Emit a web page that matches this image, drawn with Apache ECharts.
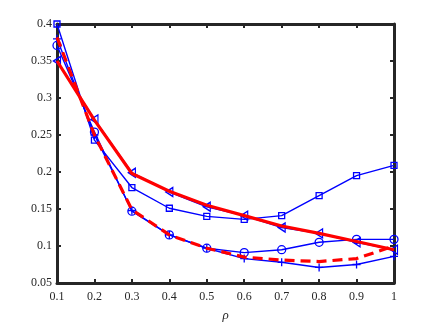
<!DOCTYPE html>
<html>
<head>
<meta charset="utf-8">
<script src="https://cdn.jsdelivr.net/npm/echarts@6/dist/echarts.min.js"></script>
<style>
  html, body { margin: 0; padding: 0; background: #fff; }
  #chart { width: 436px; height: 327px; }
</style>
</head>
<body>
<div id="chart"></div>
<script>
// x values (rho)
var rho = [0.1, 0.2, 0.3, 0.4, 0.5, 0.6, 0.7, 0.8, 0.9, 1.0];

// blue curves
var squareVals   = [0.400, 0.243, 0.179, 0.151, 0.140, 0.136, 0.141, 0.168, 0.195, 0.209];
var triangleVals = [0.350, 0.271, 0.199, 0.173, 0.153, 0.141, 0.125, 0.117, 0.105, 0.095];
var circleVals   = [0.371, 0.254, 0.147, 0.115, 0.097, 0.091, 0.095, 0.105, 0.109, 0.109];
var plusVals     = [0.380, 0.250, 0.148, 0.115, 0.097, 0.083, 0.078, 0.071, 0.075, 0.086];

// red curves
var redSolidVals  = [0.350, 0.270, 0.198, 0.174, 0.155, 0.141, 0.127, 0.117, 0.106, 0.095];
var redDashedVals = [0.382, 0.250, 0.149, 0.115, 0.097, 0.085, 0.081, 0.079, 0.083, 0.100];

var xTicks = ['0.1', '0.2', '0.3', '0.4', '0.5', '0.6', '0.7', '0.8', '0.9', '1'];
var yTicks = ['0.05', '0.1', '0.15', '0.2', '0.25', '0.3', '0.35', '0.4'];

function pairs(vals) {
  return rho.map(function (x, i) { return [x, vals[i]]; });
}

var axisColor = '#262626';
var font = 'Liberation Serif';

function blueSeries(name, vals, symbol, size) {
  return {
    name: name,
    type: 'line',
    data: pairs(vals),
    symbol: symbol,
    symbolSize: size,
    showAllSymbol: true,
    lineStyle: { color: '#0000ff', width: 1.4 },
    itemStyle: { color: 'rgba(0,0,0,0)', borderColor: '#0000ff', borderWidth: 1.3 },
    z: 2
  };
}

var myChart = echarts.init(document.getElementById('chart'));
myChart.setOption({
  backgroundColor: '#fff',
  animation: false,
  grid: { left: 57, right: 42, top: 24, bottom: 37 },
  xAxis: [
    {
      type: 'value', min: 0.1, max: 1, interval: 0.1,
      name: 'ρ', nameLocation: 'middle', nameGap: 26,
      nameTextStyle: { fontFamily: font, fontStyle: 'italic', fontSize: 13, color: axisColor },
      axisLine: { lineStyle: { color: axisColor, width: 3 } },
      axisTick: { inside: true, length: 4, lineStyle: { color: axisColor, width: 2 } },
      axisLabel: {
        fontFamily: font, fontSize: 12, color: axisColor, margin: 8,
        formatter: function (v) { return xTicks[Math.round(v * 10) - 1]; }
      },
      splitLine: { show: false }
    },
    {
      type: 'value', min: 0.1, max: 1, interval: 0.1, position: 'top',
      axisLine: { lineStyle: { color: axisColor, width: 3 } },
      axisTick: { inside: true, length: 4, lineStyle: { color: axisColor, width: 2 } },
      axisLabel: { show: false },
      splitLine: { show: false }
    }
  ],
  yAxis: [
    {
      type: 'value', min: 0.05, max: 0.4, interval: 0.05,
      axisLine: { show: true, lineStyle: { color: axisColor, width: 3 } },
      axisTick: { show: true, inside: true, length: 4, lineStyle: { color: axisColor, width: 2 } },
      axisLabel: {
        fontFamily: font, fontSize: 12, color: axisColor, margin: 5,
        formatter: function (v) { return yTicks[Math.round(v * 20) - 1]; }
      },
      splitLine: { show: false }
    },
    {
      type: 'value', min: 0.05, max: 0.4, interval: 0.05, position: 'right',
      axisLine: { show: true, lineStyle: { color: axisColor, width: 3 } },
      axisTick: { show: true, inside: true, length: 4, lineStyle: { color: axisColor, width: 2 } },
      axisLabel: { show: false },
      splitLine: { show: false }
    }
  ],
  series: [
    blueSeries('square', squareVals, 'rect', 6),
    blueSeries('triangle', triangleVals, 'path://M0,5 L8,0 L8,10 Z', [7, 9]),
    blueSeries('circle', circleVals, 'circle', 8),
    blueSeries('plus', plusVals, 'path://M0,5 L10,5 M5,0 L5,10', 8),
    {
      name: 'red dashed', type: 'line', data: pairs(redDashedVals),
      symbol: 'none', lineStyle: { color: '#ff0000', width: 3.2, type: [10, 6] }, z: 3
    },
    {
      name: 'red solid', type: 'line', data: pairs(redSolidVals),
      symbol: 'none', lineStyle: { color: '#ff0000', width: 3.2 }, z: 3
    }
  ]
});
</script>
</body>
</html>
